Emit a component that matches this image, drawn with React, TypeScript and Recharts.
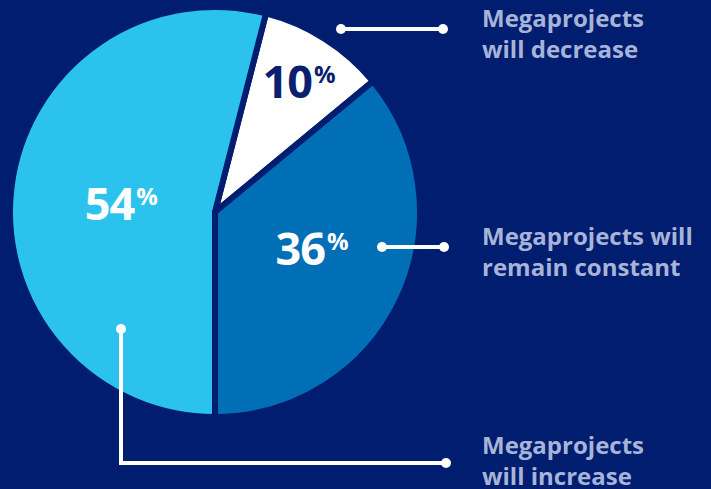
import React from "react";
import { PieChart, Pie, Cell } from "recharts";

const categories = ["Megaprojects will decrease", "Megaprojects will remain constant", "Megaprojects will increase"];
const shares = [10, 36, 54];
const sliceColors = ["#ffffff", "#006fb6", "#2bc3ee"];
const labelColors = ["#0a1f6e", "#ffffff", "#ffffff"];

const BG = "#011d6f";
const LEGEND = "#a7b4d9";
const FONT = "'Open Sans', sans-serif";

const data = categories.map((name, i) => ({ name, value: shares[i] }));

// label placement: radius from centre and an angle nudge (deg, recharts direction)
const LABEL_POS = [
  { r: 155, a: -0.4 },
  { r: 104, a: 4.3 },
  { r: 94, a: 2.3 },
];

const RAD = Math.PI / 180;

function renderLabel(props: any) {
  const { cx, cy, midAngle, index, value } = props;
  const p = LABEL_POS[index];
  const ang = (midAngle + p.a) * RAD;
  const x = cx + p.r * Math.cos(-ang);
  const y = cy + p.r * Math.sin(-ang);
  return (
    <text
      x={x}
      y={y + 16}
      textAnchor="middle"
      fill={labelColors[index]}
      fontFamily={FONT}
      fontWeight={700}
      fontSize={45}
      letterSpacing={-1}
    >
      {value}
      <tspan fontSize={24} dx={2} dy={-15} letterSpacing={0}>
        %
      </tspan>
    </text>
  );
}

const legendLines = [
  { lines: ["Megaprojects", "will decrease"], y: 27 },
  { lines: ["Megaprojects will", "remain constant"], y: 245 },
  { lines: ["Megaprojects", "will increase"], y: 454 },
];

export default function App() {
  return (
    <div style={{ position: "absolute", left: 0, top: 0, width: 711, height: 489, background: BG, overflow: "hidden" }}>
      <PieChart width={711} height={489} margin={{ top: 0, right: 0, bottom: 0, left: 0 }}>
        <Pie
          data={data}
          dataKey="value"
          nameKey="name"
          cx={215}
          cy={212}
          outerRadius={205}
          startAngle={75.6}
          endAngle={-284.4}
          stroke={BG}
          strokeWidth={6}
          label={renderLabel}
          labelLine={false}
          isAnimationActive={false}
        >
          {data.map((d, i) => (
            <Cell key={d.name} fill={sliceColors[i]} />
          ))}
        </Pie>
      </PieChart>
      <svg width={711} height={489} style={{ position: "absolute", left: 0, top: 0, pointerEvents: "none" }}>
        <g stroke="#ffffff" strokeWidth={4} fill="none">
          <line x1={341} y1={29} x2={443} y2={29} />
          <line x1={382} y1={247} x2={444} y2={247} />
          <polyline points="121,329 121,463 446,463" />
        </g>
        <g fill="#ffffff">
          <circle cx={341} cy={29} r={5} />
          <circle cx={443} cy={29} r={5} />
          <circle cx={382} cy={247} r={5} />
          <circle cx={444} cy={247} r={5} />
          <circle cx={121} cy={329} r={5} />
          <circle cx={446} cy={463} r={5} />
        </g>
        {legendLines.map((l) => (
          <text key={l.y} x={482} y={l.y} fill={LEGEND} fontFamily={FONT} fontWeight={700} fontSize={24}>
            <tspan x={482}>{l.lines[0]}</tspan>
            <tspan x={482} dy={31}>
              {l.lines[1]}
            </tspan>
          </text>
        ))}
      </svg>
    </div>
  );
}
